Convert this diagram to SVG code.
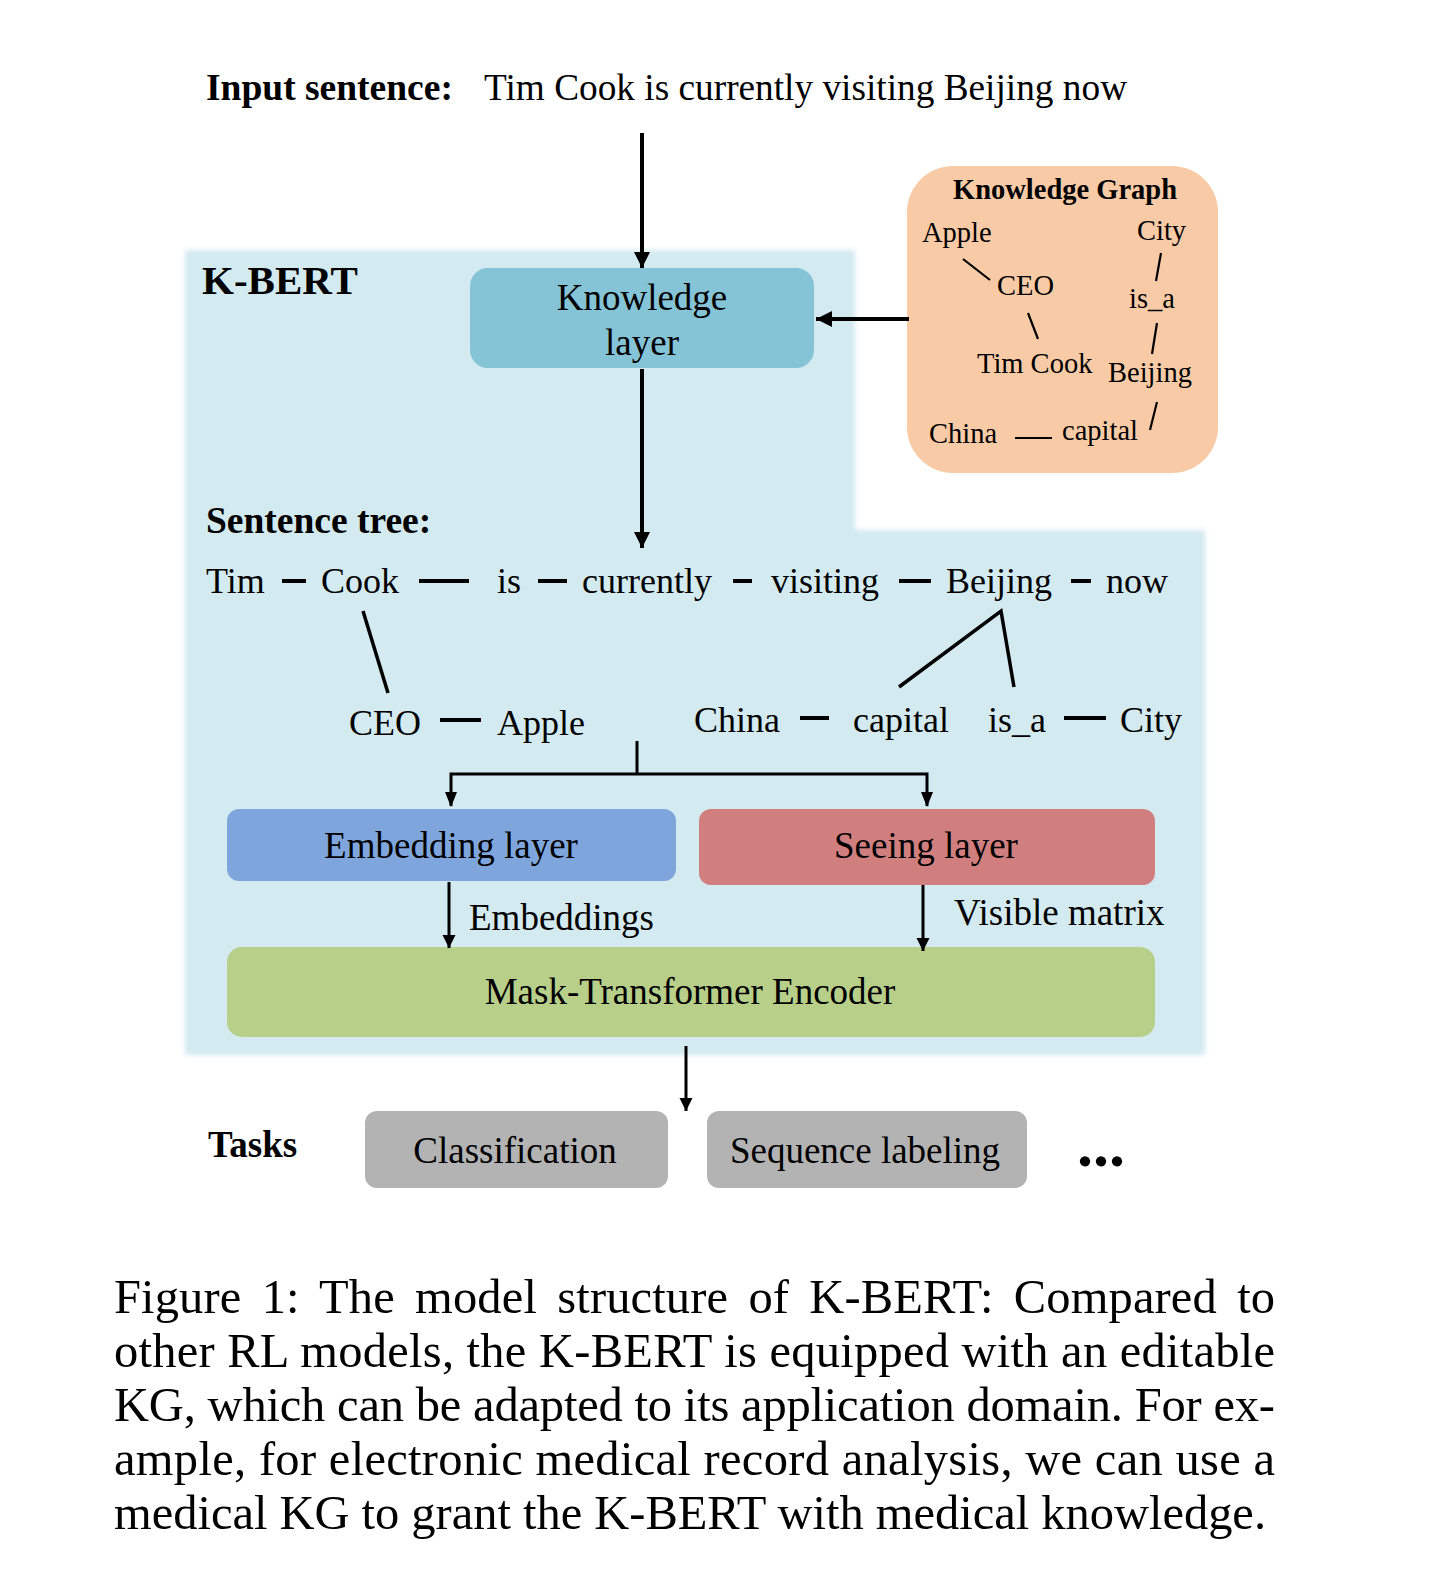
<svg xmlns="http://www.w3.org/2000/svg" width="1436" height="1578" viewBox="0 0 1436 1578">
<defs>
<style>
.t{font-family:"Liberation Serif","Times New Roman",serif;fill:#000}
.b{font-weight:bold}
.c{text-anchor:middle}
.ln{stroke:#000;fill:none}
.thk{stroke-width:4}
.thn{stroke-width:3}
</style>
<marker id="ah" viewBox="0 0 10 10" refX="10" refY="5" markerWidth="4" markerHeight="4.5" orient="auto" markerUnits="strokeWidth"><path d="M0,0 L10,5 L0,10 z" fill="#000"/></marker>
<marker id="ahs" viewBox="0 0 10 10" refX="10" refY="5" markerWidth="4.5" markerHeight="4.5" orient="auto" markerUnits="strokeWidth"><path d="M0,0 L10,5 L0,10 z" fill="#000"/></marker>
<filter id="soft" x="-5%" y="-5%" width="110%" height="110%"><feGaussianBlur stdDeviation="2.5"/></filter>
</defs>
<rect width="1436" height="1578" fill="#fff"/>

<g id="kbert-bg">
<path d="M185,250 H855 V530 H1205 V1055 H185 Z" fill="#d3eaf0" filter="url(#soft)"/>
<text class="t b" x="202" y="294" font-size="41">K-BERT</text>
</g>

<g id="input">
<text class="t b" x="206" y="100" font-size="37.5">Input sentence:</text>
<text class="t" x="484" y="100" font-size="37.3">Tim Cook is currently visiting Beijing now</text>
</g>

<g id="knowledge-layer">
<rect x="470" y="268" width="344" height="100" rx="18" fill="#85c3d6"/>
<text class="t c" x="642" y="310" font-size="37">Knowledge</text>
<text class="t c" x="642" y="355" font-size="37">layer</text>
</g>

<g id="knowledge-graph">
<rect x="907" y="166" width="311" height="307" rx="46" fill="#f8cba6"/>
<text class="t b c" x="1065" y="199" font-size="28.5">Knowledge Graph</text>
<text class="t" x="922" y="242" font-size="28.5">Apple</text>
<text class="t" x="1137" y="240" font-size="28.5">City</text>
<text class="t" x="997" y="295" font-size="28.5">CEO</text>
<text class="t" x="1129" y="308" font-size="28.5">is_a</text>
<text class="t" x="977" y="373" font-size="28.5">Tim Cook</text>
<text class="t" x="1108" y="382" font-size="28.5">Beijing</text>
<text class="t" x="929" y="443" font-size="28.5">China</text>
<text class="t" x="1062" y="440" font-size="28.5">capital</text>
<g class="ln" stroke-width="2.2">
<line x1="963" y1="259" x2="990" y2="280"/>
<line x1="1028" y1="313" x2="1038" y2="339"/>
<line x1="1161" y1="253" x2="1156" y2="281"/>
<line x1="1157" y1="323" x2="1152" y2="354"/>
<line x1="1157" y1="402" x2="1150" y2="430"/>
<line x1="1015" y1="438" x2="1052" y2="438"/>
</g>
</g>

<g id="sentence-tree">
<text class="t b" x="206" y="533" font-size="37.5">Sentence tree:</text>
<g font-size="36">
<text class="t" x="206" y="593">Tim</text>
<text class="t" x="321" y="593">Cook</text>
<text class="t" x="497" y="593">is</text>
<text class="t" x="582" y="593">currently</text>
<text class="t" x="771" y="593">visiting</text>
<text class="t" x="946" y="593">Beijing</text>
<text class="t" x="1106" y="593">now</text>
<text class="t" x="349" y="735">CEO</text>
<text class="t" x="497" y="735">Apple</text>
<text class="t" x="694" y="732">China</text>
<text class="t" x="853" y="732">capital</text>
<text class="t" x="988" y="732">is_a</text>
<text class="t" x="1120" y="732">City</text>
</g>
<g class="ln" stroke-width="4">
<line x1="282" y1="581" x2="306" y2="581"/>
<line x1="419" y1="581" x2="469" y2="581"/>
<line x1="538" y1="581" x2="567" y2="581"/>
<line x1="733" y1="581" x2="752" y2="581"/>
<line x1="899" y1="581" x2="931" y2="581"/>
<line x1="1071" y1="581" x2="1091" y2="581"/>
<line x1="440" y1="720" x2="481" y2="720"/>
<line x1="800" y1="718" x2="829" y2="718"/>
<line x1="1064" y1="718" x2="1106" y2="718"/>
</g>
<g class="ln" stroke-width="3.5">
<line x1="363" y1="611" x2="388" y2="693"/>
<polyline points="899,687 1001,611 1014,687"/>
</g>
</g>

<g id="embedding-layer">
<rect x="227" y="809" width="449" height="72" rx="12" fill="#7ea6dd"/>
<text class="t c" x="451" y="858" font-size="37">Embedding layer</text>
</g>

<g id="seeing-layer">
<rect x="699" y="809" width="456" height="76" rx="12" fill="#d17f7e"/>
<text class="t c" x="926" y="858" font-size="37">Seeing layer</text>
</g>

<g id="mask-transformer">
<rect x="227" y="947" width="928" height="90" rx="15" fill="#b8cf8a"/>
<text class="t c" x="690" y="1004" font-size="37">Mask-Transformer Encoder</text>
</g>

<g id="tasks">
<text class="t b" x="208" y="1157" font-size="37">Tasks</text>
<rect x="365" y="1111" width="303" height="77" rx="12" fill="#b3b3b3"/>
<text class="t c" x="515" y="1163" font-size="37">Classification</text>
<rect x="707" y="1111" width="320" height="77" rx="12" fill="#b3b3b3"/>
<text class="t c" x="865" y="1163" font-size="37">Sequence labeling</text>
<text class="t b" x="1077" y="1166" font-size="64">...</text>
</g>

<g id="connectors">
<line class="ln thk" x1="642" y1="133" x2="642" y2="268" marker-end="url(#ah)"/>
<line class="ln thk" x1="642" y1="369" x2="642" y2="548" marker-end="url(#ah)"/>
<line class="ln thk" x1="909" y1="319" x2="816" y2="319" marker-end="url(#ah)"/>
<polyline class="ln thn" points="637,741 637,774"/>
<polyline class="ln thn" points="451,806 451,774 927,774 927,806" stroke-linejoin="miter"/>
<path d="M445,792 L457,792 L451,807 Z" fill="#000"/>
<path d="M921,792 L933,792 L927,807 Z" fill="#000"/>
<line class="ln thn" x1="449" y1="882" x2="449" y2="948" marker-end="url(#ahs)"/>
<line class="ln thn" x1="923" y1="885" x2="923" y2="951" marker-end="url(#ahs)"/>
<line class="ln thn" x1="686" y1="1046" x2="686" y2="1111" marker-end="url(#ahs)"/>
</g>
<text class="t" x="469" y="930" font-size="37">Embeddings</text>
<text class="t" x="954" y="925" font-size="37">Visible matrix</text>

<g id="caption" font-size="48.5">
<text class="t" x="114" y="1313" textLength="1161" lengthAdjust="spacing" word-spacing="8">Figure 1: The model structure of K-BERT: Compared to</text>
<text class="t" x="114" y="1367" textLength="1161" lengthAdjust="spacing">other RL models, the K-BERT is equipped with an editable</text>
<text class="t" x="114" y="1421" textLength="1161" lengthAdjust="spacing">KG, which can be adapted to its application domain. For ex-</text>
<text class="t" x="114" y="1475" textLength="1161" lengthAdjust="spacing">ample, for electronic medical record analysis, we can use a</text>
<text class="t" x="114" y="1529" textLength="1152" lengthAdjust="spacing">medical KG to grant the K-BERT with medical knowledge.</text>
</g>
</svg>
